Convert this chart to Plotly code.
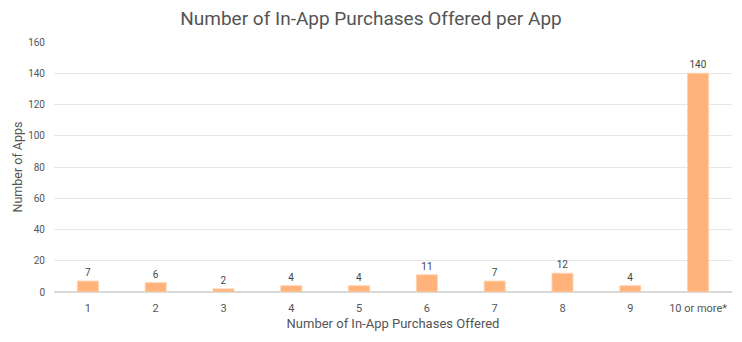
import plotly.graph_objects as go

categories = ["1", "2", "3", "4", "5", "6", "7", "8", "9", "10 or more*"]
apps = [7, 6, 2, 4, 4, 11, 7, 12, 4, 140]
y_ticks = [0, 20, 40, 60, 80, 100, 120, 140, 160]

FONT = "Roboto"
TEXT = "#555555"

fig = go.Figure(
    go.Bar(
        x=categories,
        y=apps,
        width=0.31,
        marker=dict(color="#FFB27A", line=dict(color="#FFD2B0", width=1)),
        text=[str(v) for v in apps],
        textposition="outside",
        textfont=dict(family=FONT, size=10, color="#444444"),
        cliponaxis=False,
    )
)

fig.update_layout(
    width=742,
    height=342,
    margin=dict(l=54, r=10, t=42, b=50),
    paper_bgcolor="white",
    plot_bgcolor="white",
    showlegend=False,
    title=dict(
        text="Number of In-App Purchases Offered per App",
        x=0.5,
        xanchor="center",
        y=0.945,
        yanchor="middle",
        font=dict(family=FONT, size=19, color=TEXT),
    ),
    xaxis=dict(
        title=dict(text="Number of In-App Purchases Offered", standoff=4,
                   font=dict(family=FONT, size=13, color=TEXT)),
        tickfont=dict(family=FONT, size=11, color=TEXT),
        ticklabelstandoff=8,
        showgrid=False,
        showline=False,
        ticks="",
    ),
    yaxis=dict(
        title=dict(text="Number of Apps", standoff=2,
                   font=dict(family=FONT, size=12.5, color=TEXT)),
        range=[0, 160],
        tickvals=y_ticks,
        tickfont=dict(family=FONT, size=10, color=TEXT),
        showgrid=True,
        gridcolor="#E6E6E6",
        gridwidth=1,
        zeroline=True,
        zerolinecolor="#D9D9D9",
        zerolinewidth=1.5,
        ticks="",
        ticklabelstandoff=8,
    ),
)

fig.write_html("out.html")
